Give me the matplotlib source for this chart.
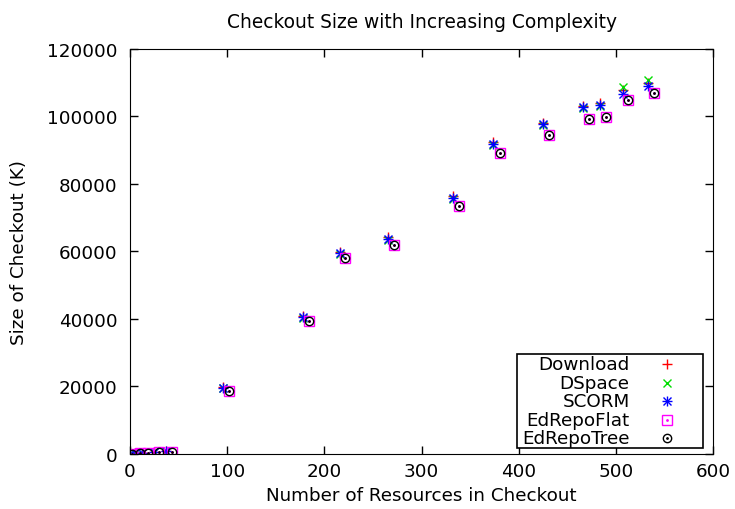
import matplotlib
matplotlib.use("Agg")
import matplotlib.pyplot as plt

plt.rcParams["font.family"] = ["DejaVu Sans"]
plt.rcParams["font.size"] = 13.2

# resource counts (EdRepo runs sit slightly to the right)
x_std = [0, 5, 12, 25, 37, 96, 178, 216, 266, 332, 374, 425, 466, 484, 507, 533]
x_edrepo = [2, 10, 18, 30, 43, 102, 184, 221, 272, 339, 381, 431, 472, 490, 513, 539]

download = [150, 250, 400, 600, 800, 19800, 41000, 59800, 64200, 76300, 92300, 98100, 103100, 103900, 107700, 109800]
dspace = [100, 200, 350, 550, 750, 19400, 40400, 59300, 63400, 75600, 91600, 97500, 102500, 103100, 108600, 110700]
scorm = [100, 200, 350, 550, 750, 19500, 40600, 59500, 63600, 75800, 91800, 97700, 102700, 103300, 106700, 108900]
edrepo_flat = [50, 150, 300, 450, 500, 18700, 39300, 58000, 61800, 73400, 89100, 94600, 99300, 99800, 104900, 107000]
edrepo_tree = [50, 150, 300, 450, 500, 18700, 39300, 58000, 61800, 73400, 89100, 94600, 99300, 99800, 104900, 107000]

RED, GREEN, BLUE, MAG = "#ff0000", "#00dd00", "#0000ff", "#ff00ff"

fig = plt.figure(figsize=(7.35, 5.1), dpi=100)
ax = fig.add_axes([0.177, 0.108, 0.793, 0.794])

ax.plot(x_std, download, "+", color=RED, ms=7, mew=1)
ax.plot(x_std, dspace, "x", color=GREEN, ms=6, mew=1)
ax.plot(x_std, scorm, "+", color=BLUE, ms=7, mew=1)
ax.plot(x_std, scorm, "x", color=BLUE, ms=5.5, mew=1)
ax.plot(x_edrepo, edrepo_flat, "s", color=MAG, ms=7, mfc="none", mew=1)
ax.plot(x_edrepo, edrepo_flat, ".", color=MAG, ms=2)
ax.plot(x_edrepo, edrepo_tree, "o", color="black", ms=6, mfc="none", mew=1)
ax.plot(x_edrepo, edrepo_tree, ".", color="black", ms=2)

ax.set_xlim(0, 600)
ax.set_ylim(0, 120000)
ax.set_xticks(range(0, 601, 100))
ax.set_yticks(range(0, 120001, 20000))
ax.tick_params(direction="in", top=True, right=True, length=6, width=1)
ax.tick_params(axis="y", pad=9)
ax.tick_params(axis="x", pad=6)
ax.set_title("Checkout Size with Increasing Complexity", fontsize=13.4, pad=16)
ax.set_xlabel("Number of Resources in Checkout", labelpad=4)
ax.set_ylabel("Size of Checkout (K)", labelpad=14)

# gnuplot style key: right aligned labels, symbol on the right
labels = ["Download", "DSpace", "SCORM", "EdRepoFlat", "EdRepoTree"]
styles = [
    [dict(marker="+", color=RED, ms=7, mew=1)],
    [dict(marker="x", color=GREEN, ms=6, mew=1)],
    [dict(marker="+", color=BLUE, ms=7, mew=1), dict(marker="x", color=BLUE, ms=5.5, mew=1)],
    [dict(marker="s", color=MAG, ms=7, mfc="none", mew=1), dict(marker=".", color=MAG, ms=2)],
    [dict(marker="o", color="black", ms=6, mfc="none", mew=1), dict(marker=".", color="black", ms=2)],
]
box = plt.Rectangle((0.664, 0.015), 0.319, 0.232, transform=ax.transAxes,
                    fill=True, facecolor="white", edgecolor="black", lw=1.2, zorder=5)
ax.add_patch(box)
for i, (lab, sts) in enumerate(zip(labels, styles)):
    yy = 0.222 - i * 0.0457
    ax.text(0.857, yy, lab, transform=ax.transAxes, ha="right", va="center", zorder=6)
    for st in sts:
        ax.plot([0.921], [yy], transform=ax.transAxes, linestyle="none", zorder=6, **st)

fig.savefig("out.png", dpi=100)
